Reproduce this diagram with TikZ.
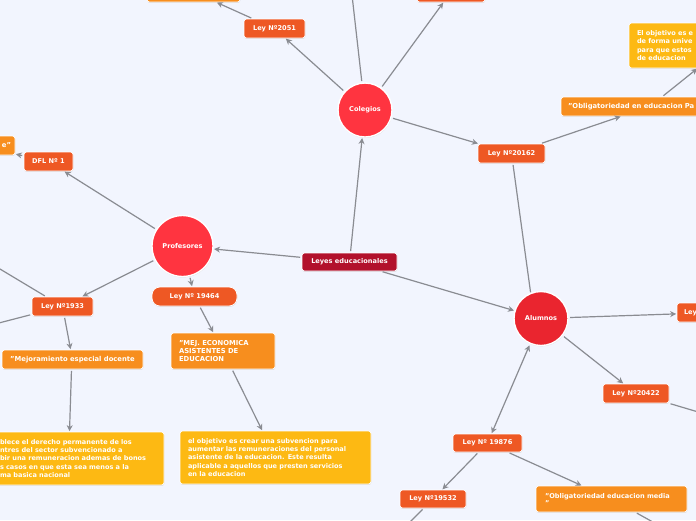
\documentclass[tikz,border=0pt]{standalone}
\usepackage{fontspec}
\setmainfont{DejaVu Sans}
\usetikzlibrary{arrows.meta,shadows}
\definecolor{bg}{RGB}{242,245,254}
\definecolor{redor}{RGB}{238,88,36}
\definecolor{orng}{RGB}{247,142,30}
\definecolor{yell}{RGB}{253,185,19}
\definecolor{maroon}{RGB}{178,17,44}
\definecolor{circA}{RGB}{255,52,64}
\definecolor{circB}{RGB}{234,37,47}
\definecolor{edgec}{RGB}{138,140,146}
\begin{document}
\begin{tikzpicture}[x=1pt,y=-1pt,
  base/.style={draw=white, line width=0.7pt, rounded corners=2.5pt, text=white,
    font=\fontsize{6.6}{8}\selectfont\bfseries, inner sep=0pt,
    drop shadow={opacity=0.22, shadow xshift=0.3pt, shadow yshift=-0.9pt}},
  lawbox/.style={base, fill=redor, minimum height=19pt},
  orbox/.style={base, fill=orng, font=\fontsize{6.8}{8.4}\selectfont\bfseries},
  yebox/.style={base, fill=yell, font=\fontsize{6.55}{8.4}\selectfont\bfseries, align=left},
  circ/.style={circle, draw=white, line width=1.4pt, text=white, inner sep=0pt,
    font=\fontsize{6.6}{8}\selectfont\bfseries,
    drop shadow={opacity=0.25, shadow xshift=0.3pt, shadow yshift=-0.9pt}},
  conn/.style={draw=edgec, line width=1.2pt, shorten <=1.5pt, shorten >=0.5pt},
  arr/.style={conn, -{Stealth[length=6pt,width=6pt]}},
  darr/.style={conn, {Stealth[length=6pt,width=6pt]}-{Stealth[length=6pt,width=6pt]}}
]
\useasboundingbox (0,0) rectangle (696,520);
\fill[bg] (0,0) rectangle (696,520);
\clip (0,0) rectangle (696,520);

% main
\node[base, fill=maroon, minimum width=95pt, minimum height=18pt] (lead) at (349.5,262) {Leyes educacionales};
\node[circ, fill=circA, minimum size=54pt] (col) at (365,110) {Colegios};
\node[circ, fill=circA, minimum size=61pt] (prof) at (182.5,246) {Profesores};
\node[circ, fill=circB, minimum size=54pt] (alu) at (541,318.5) {Alumnos};

% Colegios branch
\node[lawbox, minimum width=61pt] (l2051) at (274.5,28.5) {Ley Nº2051};
\node[orbox, minimum width=93pt, minimum height=20pt] (tl) at (193.5,-8) {};
\node[lawbox, minimum width=68pt, minimum height=20pt] (tr) at (451,-8) {};
\coordinate (coltop) at (352,-5);
\node[lawbox, minimum width=67pt] (l20162) at (511.5,153.5) {Ley Nº20162};
\node[orbox, minimum width=178pt, minimum height=19pt, text width=164pt, align=left] (oblpa) at (650,106.5) {"Obligatoriedad en educacion Pa};
\node[yebox, minimum width=194pt, minimum height=45pt, text width=178pt] (yetr) at (726,45.5) {El objetivo es e\\de forma unive\\para que estos\\de educacion};

% Profesores branch
\node[lawbox, minimum width=49pt] (dfl) at (48.5,161.5) {DFL Nº 1};
\node[orbox, minimum width=75pt, minimum height=19pt, text width=67pt, align=right] (lbox) at (-22.5,145.5) {e"};
\node[lawbox, minimum width=61pt] (l1933) at (62.5,306.5) {Ley Nº1933};
\coordinate (off1) at (-5,266);
\coordinate (off2) at (-5,324);
\node[orbox, minimum width=141pt, minimum height=19pt] (mejor) at (72.5,359.5) {"Mejoramiento especial docente};
\node[yebox, minimum width=173pt, minimum height=53pt, text width=155pt] (yel) at (77.5,458.5) {blece el derecho permanente de los\\ntres del sector subvencionado a\\bir una remuneracion ademas de bonos\\s casos en que esta sea menos a la\\ma basica nacional};
\node[lawbox, minimum width=85pt, rounded corners=8pt] (l19464) at (194.5,296.5) {Ley Nº 19464};
\node[orbox, minimum width=104pt, minimum height=36pt, text width=88pt, align=left] (mej) at (223,351) {"MEJ. ECONOMICA\\ASISTENTES DE\\EDUCACION};
\node[yebox, minimum width=191pt, minimum height=53pt, text width=175pt] (yem) at (275.5,457.5) {el objetivo es crear una subvencion para\\aumentar las remuneraciones del personal\\asistente de la educacion. Este resulta\\aplicable a aquellos que presten servicios\\en la educacion};

% Alumnos branch
\node[lawbox, minimum width=80pt, text width=66pt, align=left] (leyr) at (717,312.5) {Ley};
\node[lawbox, minimum width=66pt] (l20422) at (636,393.5) {Ley Nº20422};
\coordinate (off3) at (705,414);
\node[lawbox, minimum width=69pt, minimum height=18pt] (l19876) at (487.5,443) {Ley Nº 19876};
\node[lawbox, minimum width=66pt, minimum height=18pt] (l19532) at (433,499) {Ley Nº19532};
\coordinate (off4) at (408,524);
\node[orbox, minimum width=151pt, minimum height=26pt, text width=133pt, align=left, font=\fontsize{6.6}{7}\selectfont\bfseries] (oblm) at (611.5,499) {"Obligatoriedad educacion media\\"};
\coordinate (off5) at (660,526);

% connectors
\draw[arr] (lead) -- (col);
\draw[arr] (lead) -- (prof);
\draw[arr] (lead) -- (alu);
\draw[arr] (col) -- (l2051);
\draw[arr] (l2051) -- (tl);
\draw[arr] (col) -- (tr);
\draw[conn] (col) -- (coltop);
\draw[arr] (col) -- (l20162);
\draw[arr] (l20162) -- (oblpa);
\draw[arr] (oblpa) -- (yetr);
\draw[conn] (l20162) -- (alu.112);
\draw[arr] (prof) -- (dfl);
\draw[arr] (dfl) -- (lbox);
\draw[arr] (prof) -- (l1933);
\draw[conn] (l1933) -- (off1);
\draw[conn] (l1933) -- (off2);
\draw[arr] (l1933) -- (mejor);
\draw[arr] ([xshift=-1pt]mejor.south) -- ([xshift=-8pt]yel.north);
\draw[arr] (prof) -- (l19464);
\draw[arr] (l19464) -- (mej);
\draw[arr] (mej) -- (yem);
\draw[arr] (alu) -- (leyr);
\draw[arr] (alu) -- (l20422);
\draw[conn] (l20422) -- (off3);
\draw[darr] (alu) -- (l19876);
\draw[arr] (l19876) -- (l19532);
\draw[conn] (l19532) -- (off4);
\draw[arr] (l19876) -- (oblm);
\draw[conn] (oblm) -- (off5);
\end{tikzpicture}
\end{document}
